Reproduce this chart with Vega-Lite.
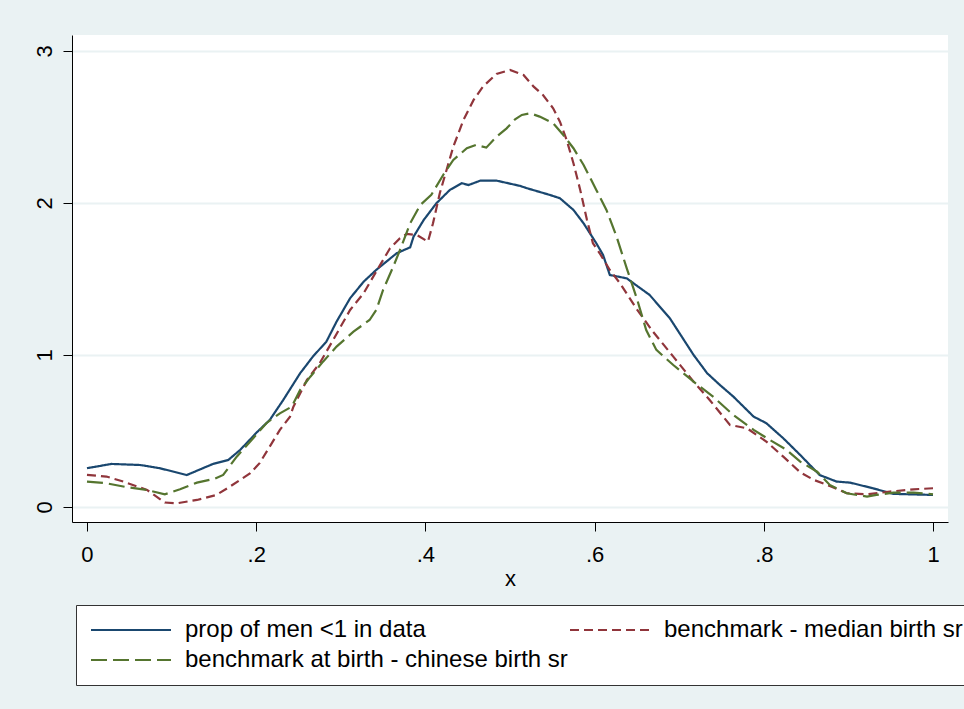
{
  "$schema": "https://vega.github.io/schema/vega-lite/v6.json",
  "autosize": "none",
  "width": 876,
  "height": 487,
  "padding": {"left": 72, "top": 35, "right": 16, "bottom": 187},
  "background": "#EAF2F3",
  "config": {
    "view": {"stroke": null, "fill": "#FFFFFF"},
    "font": "Liberation Sans",
    "axis": {
      "domainColor": "#000000",
      "domainWidth": 1,
      "tickColor": "#000000",
      "tickWidth": 1,
      "tickSize": 9,
      "labelColor": "#000000",
      "labelFont": "Liberation Sans",
      "labelFontSize": 22,
      "titleFont": "Liberation Sans",
      "titleFontSize": 22,
      "titleFontWeight": "normal",
      "titleColor": "#000000"
    },
    "legend": {
      "labelFont": "Liberation Sans",
      "labelFontSize": 24,
      "labelColor": "#000000",
      "labelLimit": 600
    }
  },
  "data": {
    "values": [
      {"series": "prop of men <1 in data", "x": 0.0, "y": 0.255},
      {"series": "prop of men <1 in data", "x": 0.029, "y": 0.283},
      {"series": "prop of men <1 in data", "x": 0.063, "y": 0.276},
      {"series": "prop of men <1 in data", "x": 0.086, "y": 0.255},
      {"series": "prop of men <1 in data", "x": 0.118, "y": 0.21},
      {"series": "prop of men <1 in data", "x": 0.137, "y": 0.255},
      {"series": "prop of men <1 in data", "x": 0.149, "y": 0.283},
      {"series": "prop of men <1 in data", "x": 0.167, "y": 0.309},
      {"series": "prop of men <1 in data", "x": 0.181, "y": 0.375},
      {"series": "prop of men <1 in data", "x": 0.193, "y": 0.445},
      {"series": "prop of men <1 in data", "x": 0.2, "y": 0.487},
      {"series": "prop of men <1 in data", "x": 0.216, "y": 0.572},
      {"series": "prop of men <1 in data", "x": 0.232, "y": 0.704},
      {"series": "prop of men <1 in data", "x": 0.252, "y": 0.88},
      {"series": "prop of men <1 in data", "x": 0.267, "y": 0.989},
      {"series": "prop of men <1 in data", "x": 0.283, "y": 1.088},
      {"series": "prop of men <1 in data", "x": 0.295, "y": 1.219},
      {"series": "prop of men <1 in data", "x": 0.311, "y": 1.373},
      {"series": "prop of men <1 in data", "x": 0.327, "y": 1.482},
      {"series": "prop of men <1 in data", "x": 0.342, "y": 1.56},
      {"series": "prop of men <1 in data", "x": 0.366, "y": 1.669},
      {"series": "prop of men <1 in data", "x": 0.382, "y": 1.708},
      {"series": "prop of men <1 in data", "x": 0.386, "y": 1.778},
      {"series": "prop of men <1 in data", "x": 0.398, "y": 1.888},
      {"series": "prop of men <1 in data", "x": 0.413, "y": 1.998},
      {"series": "prop of men <1 in data", "x": 0.429, "y": 2.086},
      {"series": "prop of men <1 in data", "x": 0.443, "y": 2.13},
      {"series": "prop of men <1 in data", "x": 0.451, "y": 2.118},
      {"series": "prop of men <1 in data", "x": 0.465, "y": 2.147},
      {"series": "prop of men <1 in data", "x": 0.484, "y": 2.147},
      {"series": "prop of men <1 in data", "x": 0.512, "y": 2.112},
      {"series": "prop of men <1 in data", "x": 0.52, "y": 2.097},
      {"series": "prop of men <1 in data", "x": 0.547, "y": 2.053},
      {"series": "prop of men <1 in data", "x": 0.559, "y": 2.031},
      {"series": "prop of men <1 in data", "x": 0.575, "y": 1.954},
      {"series": "prop of men <1 in data", "x": 0.587, "y": 1.866},
      {"series": "prop of men <1 in data", "x": 0.602, "y": 1.735},
      {"series": "prop of men <1 in data", "x": 0.61, "y": 1.658},
      {"series": "prop of men <1 in data", "x": 0.618, "y": 1.526},
      {"series": "prop of men <1 in data", "x": 0.638, "y": 1.504},
      {"series": "prop of men <1 in data", "x": 0.654, "y": 1.439},
      {"series": "prop of men <1 in data", "x": 0.665, "y": 1.395},
      {"series": "prop of men <1 in data", "x": 0.689, "y": 1.241},
      {"series": "prop of men <1 in data", "x": 0.717, "y": 1.0},
      {"series": "prop of men <1 in data", "x": 0.733, "y": 0.88},
      {"series": "prop of men <1 in data", "x": 0.748, "y": 0.803},
      {"series": "prop of men <1 in data", "x": 0.764, "y": 0.726},
      {"series": "prop of men <1 in data", "x": 0.788, "y": 0.594},
      {"series": "prop of men <1 in data", "x": 0.803, "y": 0.551},
      {"series": "prop of men <1 in data", "x": 0.823, "y": 0.452},
      {"series": "prop of men <1 in data", "x": 0.843, "y": 0.342},
      {"series": "prop of men <1 in data", "x": 0.866, "y": 0.21},
      {"series": "prop of men <1 in data", "x": 0.886, "y": 0.167},
      {"series": "prop of men <1 in data", "x": 0.902, "y": 0.16},
      {"series": "prop of men <1 in data", "x": 0.929, "y": 0.123},
      {"series": "prop of men <1 in data", "x": 0.953, "y": 0.086},
      {"series": "prop of men <1 in data", "x": 1.0, "y": 0.079},

      {"series": "benchmark - median birth sr", "x": 0.0, "y": 0.211},
      {"series": "benchmark - median birth sr", "x": 0.023, "y": 0.2},
      {"series": "benchmark - median birth sr", "x": 0.043, "y": 0.167},
      {"series": "benchmark - median birth sr", "x": 0.071, "y": 0.112},
      {"series": "benchmark - median birth sr", "x": 0.092, "y": 0.029},
      {"series": "benchmark - median birth sr", "x": 0.106, "y": 0.024},
      {"series": "benchmark - median birth sr", "x": 0.13, "y": 0.046},
      {"series": "benchmark - median birth sr", "x": 0.153, "y": 0.079},
      {"series": "benchmark - median birth sr", "x": 0.169, "y": 0.134},
      {"series": "benchmark - median birth sr", "x": 0.193, "y": 0.222},
      {"series": "benchmark - median birth sr", "x": 0.204, "y": 0.288},
      {"series": "benchmark - median birth sr", "x": 0.216, "y": 0.397},
      {"series": "benchmark - median birth sr", "x": 0.228, "y": 0.507},
      {"series": "benchmark - median birth sr", "x": 0.24, "y": 0.594},
      {"series": "benchmark - median birth sr", "x": 0.244, "y": 0.66},
      {"series": "benchmark - median birth sr", "x": 0.26, "y": 0.836},
      {"series": "benchmark - median birth sr", "x": 0.275, "y": 0.945},
      {"series": "benchmark - median birth sr", "x": 0.291, "y": 1.099},
      {"series": "benchmark - median birth sr", "x": 0.311, "y": 1.296},
      {"series": "benchmark - median birth sr", "x": 0.327, "y": 1.406},
      {"series": "benchmark - median birth sr", "x": 0.342, "y": 1.55},
      {"series": "benchmark - median birth sr", "x": 0.358, "y": 1.7},
      {"series": "benchmark - median birth sr", "x": 0.37, "y": 1.768},
      {"series": "benchmark - median birth sr", "x": 0.378, "y": 1.796},
      {"series": "benchmark - median birth sr", "x": 0.39, "y": 1.789},
      {"series": "benchmark - median birth sr", "x": 0.403, "y": 1.745},
      {"series": "benchmark - median birth sr", "x": 0.409, "y": 1.866},
      {"series": "benchmark - median birth sr", "x": 0.417, "y": 2.064},
      {"series": "benchmark - median birth sr", "x": 0.425, "y": 2.217},
      {"series": "benchmark - median birth sr", "x": 0.433, "y": 2.37},
      {"series": "benchmark - median birth sr", "x": 0.445, "y": 2.546},
      {"series": "benchmark - median birth sr", "x": 0.457, "y": 2.678},
      {"series": "benchmark - median birth sr", "x": 0.468, "y": 2.765},
      {"series": "benchmark - median birth sr", "x": 0.484, "y": 2.849},
      {"series": "benchmark - median birth sr", "x": 0.5, "y": 2.875},
      {"series": "benchmark - median birth sr", "x": 0.516, "y": 2.842},
      {"series": "benchmark - median birth sr", "x": 0.528, "y": 2.765},
      {"series": "benchmark - median birth sr", "x": 0.539, "y": 2.71},
      {"series": "benchmark - median birth sr", "x": 0.551, "y": 2.623},
      {"series": "benchmark - median birth sr", "x": 0.559, "y": 2.535},
      {"series": "benchmark - median birth sr", "x": 0.567, "y": 2.414},
      {"series": "benchmark - median birth sr", "x": 0.575, "y": 2.261},
      {"series": "benchmark - median birth sr", "x": 0.583, "y": 2.086},
      {"series": "benchmark - median birth sr", "x": 0.591, "y": 1.888},
      {"series": "benchmark - median birth sr", "x": 0.598, "y": 1.735},
      {"series": "benchmark - median birth sr", "x": 0.606, "y": 1.669},
      {"series": "benchmark - median birth sr", "x": 0.618, "y": 1.559},
      {"series": "benchmark - median birth sr", "x": 0.63, "y": 1.472},
      {"series": "benchmark - median birth sr", "x": 0.65, "y": 1.3},
      {"series": "benchmark - median birth sr", "x": 0.669, "y": 1.153},
      {"series": "benchmark - median birth sr", "x": 0.693, "y": 0.989},
      {"series": "benchmark - median birth sr", "x": 0.717, "y": 0.824},
      {"series": "benchmark - median birth sr", "x": 0.736, "y": 0.704},
      {"series": "benchmark - median birth sr", "x": 0.76, "y": 0.539},
      {"series": "benchmark - median birth sr", "x": 0.78, "y": 0.518},
      {"series": "benchmark - median birth sr", "x": 0.803, "y": 0.43},
      {"series": "benchmark - median birth sr", "x": 0.823, "y": 0.331},
      {"series": "benchmark - median birth sr", "x": 0.843, "y": 0.228},
      {"series": "benchmark - median birth sr", "x": 0.859, "y": 0.178},
      {"series": "benchmark - median birth sr", "x": 0.878, "y": 0.138},
      {"series": "benchmark - median birth sr", "x": 0.898, "y": 0.09},
      {"series": "benchmark - median birth sr", "x": 0.922, "y": 0.083},
      {"series": "benchmark - median birth sr", "x": 0.949, "y": 0.101},
      {"series": "benchmark - median birth sr", "x": 0.977, "y": 0.116},
      {"series": "benchmark - median birth sr", "x": 1.0, "y": 0.123},

      {"series": "benchmark at birth - chinese birth sr", "x": 0.0, "y": 0.167},
      {"series": "benchmark at birth - chinese birth sr", "x": 0.023, "y": 0.156},
      {"series": "benchmark at birth - chinese birth sr", "x": 0.047, "y": 0.13},
      {"series": "benchmark at birth - chinese birth sr", "x": 0.071, "y": 0.112},
      {"series": "benchmark at birth - chinese birth sr", "x": 0.092, "y": 0.083},
      {"series": "benchmark at birth - chinese birth sr", "x": 0.11, "y": 0.116},
      {"series": "benchmark at birth - chinese birth sr", "x": 0.13, "y": 0.16},
      {"series": "benchmark at birth - chinese birth sr", "x": 0.151, "y": 0.186},
      {"series": "benchmark at birth - chinese birth sr", "x": 0.161, "y": 0.211},
      {"series": "benchmark at birth - chinese birth sr", "x": 0.177, "y": 0.331},
      {"series": "benchmark at birth - chinese birth sr", "x": 0.193, "y": 0.43},
      {"series": "benchmark at birth - chinese birth sr", "x": 0.212, "y": 0.551},
      {"series": "benchmark at birth - chinese birth sr", "x": 0.228, "y": 0.616},
      {"series": "benchmark at birth - chinese birth sr", "x": 0.242, "y": 0.66},
      {"series": "benchmark at birth - chinese birth sr", "x": 0.252, "y": 0.77},
      {"series": "benchmark at birth - chinese birth sr", "x": 0.264, "y": 0.857},
      {"series": "benchmark at birth - chinese birth sr", "x": 0.279, "y": 0.956},
      {"series": "benchmark at birth - chinese birth sr", "x": 0.295, "y": 1.055},
      {"series": "benchmark at birth - chinese birth sr", "x": 0.315, "y": 1.153},
      {"series": "benchmark at birth - chinese birth sr", "x": 0.334, "y": 1.23},
      {"series": "benchmark at birth - chinese birth sr", "x": 0.342, "y": 1.296},
      {"series": "benchmark at birth - chinese birth sr", "x": 0.35, "y": 1.428},
      {"series": "benchmark at birth - chinese birth sr", "x": 0.362, "y": 1.581},
      {"series": "benchmark at birth - chinese birth sr", "x": 0.37, "y": 1.691},
      {"series": "benchmark at birth - chinese birth sr", "x": 0.382, "y": 1.866},
      {"series": "benchmark at birth - chinese birth sr", "x": 0.394, "y": 1.987},
      {"series": "benchmark at birth - chinese birth sr", "x": 0.407, "y": 2.053},
      {"series": "benchmark at birth - chinese birth sr", "x": 0.421, "y": 2.184},
      {"series": "benchmark at birth - chinese birth sr", "x": 0.433, "y": 2.283},
      {"series": "benchmark at birth - chinese birth sr", "x": 0.449, "y": 2.36},
      {"series": "benchmark at birth - chinese birth sr", "x": 0.46, "y": 2.382},
      {"series": "benchmark at birth - chinese birth sr", "x": 0.472, "y": 2.364},
      {"series": "benchmark at birth - chinese birth sr", "x": 0.484, "y": 2.436},
      {"series": "benchmark at birth - chinese birth sr", "x": 0.496, "y": 2.491},
      {"series": "benchmark at birth - chinese birth sr", "x": 0.506, "y": 2.55},
      {"series": "benchmark at birth - chinese birth sr", "x": 0.514, "y": 2.579},
      {"series": "benchmark at birth - chinese birth sr", "x": 0.524, "y": 2.59},
      {"series": "benchmark at birth - chinese birth sr", "x": 0.535, "y": 2.568},
      {"series": "benchmark at birth - chinese birth sr", "x": 0.551, "y": 2.524},
      {"series": "benchmark at birth - chinese birth sr", "x": 0.563, "y": 2.447},
      {"series": "benchmark at birth - chinese birth sr", "x": 0.575, "y": 2.36},
      {"series": "benchmark at birth - chinese birth sr", "x": 0.587, "y": 2.25},
      {"series": "benchmark at birth - chinese birth sr", "x": 0.602, "y": 2.086},
      {"series": "benchmark at birth - chinese birth sr", "x": 0.614, "y": 1.954},
      {"series": "benchmark at birth - chinese birth sr", "x": 0.626, "y": 1.778},
      {"series": "benchmark at birth - chinese birth sr", "x": 0.638, "y": 1.57},
      {"series": "benchmark at birth - chinese birth sr", "x": 0.65, "y": 1.37},
      {"series": "benchmark at birth - chinese birth sr", "x": 0.661, "y": 1.164},
      {"series": "benchmark at birth - chinese birth sr", "x": 0.673, "y": 1.033},
      {"series": "benchmark at birth - chinese birth sr", "x": 0.693, "y": 0.934},
      {"series": "benchmark at birth - chinese birth sr", "x": 0.717, "y": 0.824},
      {"series": "benchmark at birth - chinese birth sr", "x": 0.74, "y": 0.726},
      {"series": "benchmark at birth - chinese birth sr", "x": 0.764, "y": 0.605},
      {"series": "benchmark at birth - chinese birth sr", "x": 0.788, "y": 0.507},
      {"series": "benchmark at birth - chinese birth sr", "x": 0.807, "y": 0.441},
      {"series": "benchmark at birth - chinese birth sr", "x": 0.827, "y": 0.375},
      {"series": "benchmark at birth - chinese birth sr", "x": 0.843, "y": 0.298},
      {"series": "benchmark at birth - chinese birth sr", "x": 0.863, "y": 0.232},
      {"series": "benchmark at birth - chinese birth sr", "x": 0.878, "y": 0.145},
      {"series": "benchmark at birth - chinese birth sr", "x": 0.898, "y": 0.09},
      {"series": "benchmark at birth - chinese birth sr", "x": 0.922, "y": 0.068},
      {"series": "benchmark at birth - chinese birth sr", "x": 0.933, "y": 0.079},
      {"series": "benchmark at birth - chinese birth sr", "x": 0.953, "y": 0.094},
      {"series": "benchmark at birth - chinese birth sr", "x": 0.977, "y": 0.094},
      {"series": "benchmark at birth - chinese birth sr", "x": 1.0, "y": 0.083}
    ]
  },
  "mark": {"type": "line", "strokeWidth": 2.2, "interpolate": "linear"},
  "encoding": {
    "x": {
      "field": "x",
      "type": "quantitative",
      "scale": {"domain": [-0.0177, 1.0177], "nice": false, "zero": false},
      "axis": {
        "values": [0, 0.2, 0.4, 0.6, 0.8, 1],
        "labelExpr": "datum.value == 0 ? '0' : datum.value == 1 ? '1' : replace(format(datum.value, '.1f'), '0.', '.')",
        "grid": false,
        "labelPadding": 13,
        "title": "x",
        "titlePadding": 3
      }
    },
    "y": {
      "field": "y",
      "type": "quantitative",
      "scale": {"domain": [-0.099, 3.105], "nice": false, "zero": false},
      "axis": {
        "values": [0, 1, 2, 3],
        "format": "d",
        "grid": true,
        "gridColor": "#EAF2F3",
        "gridWidth": 2,
        "labelAngle": -90,
        "labelAlign": "center",
        "labelBaseline": "bottom",
        "labelPadding": 7,
        "title": null
      }
    },
    "color": {
      "field": "series",
      "type": "nominal",
      "scale": {
        "domain": ["prop of men <1 in data", "benchmark - median birth sr", "benchmark at birth - chinese birth sr"],
        "range": ["#1A476F", "#90353B", "#55752F"]
      },
      "legend": {
        "title": null,
        "orient": "none",
        "legendX": 4,
        "legendY": 570,
        "direction": "horizontal",
        "columns": 2,
        "columnPadding": -17,
        "rowPadding": 6,
        "symbolType": "M-1,0H7",
        "symbolSize": 400,
        "symbolStrokeWidth": 2.2,
        "symbolFillColor": "transparent",
        "labelOffset": 72,
        "padding": 13,
        "fillColor": "#FFFFFF",
        "strokeColor": "#333333"
      }
    },
    "strokeDash": {
      "field": "series",
      "type": "nominal",
      "scale": {
        "domain": ["prop of men <1 in data", "benchmark - median birth sr", "benchmark at birth - chinese birth sr"],
        "range": [[1, 0], [9, 5], [16, 6]]
      },
      "legend": null
    }
  }
}
